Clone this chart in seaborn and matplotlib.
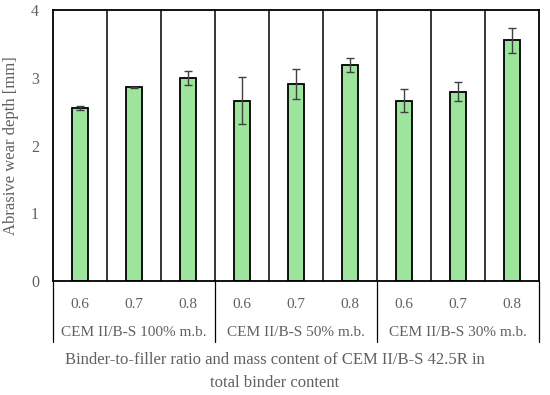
"""Abrasive wear depth bar chart with grouped category axis."""

import matplotlib
matplotlib.use("Agg")
import matplotlib.pyplot as plt
import matplotlib.transforms as mtransforms
import pandas as pd
import seaborn as sns

# Data
ratios = ["0.6", "0.7", "0.8", "0.6", "0.7", "0.8", "0.6", "0.7", "0.8"]
groups = ["CEM II/B-S 100% m.b.", "CEM II/B-S 50% m.b.", "CEM II/B-S 30% m.b."]
wear_depth = [2.55, 2.86, 3.00, 2.66, 2.91, 3.19, 2.66, 2.79, 3.55]
wear_err = [0.03, 0.01, 0.10, 0.35, 0.22, 0.10, 0.17, 0.14, 0.19]

TEXT = "#606060"
BAR = "#9de59d"

sns.set_theme(style="white")
plt.rcParams["font.family"] = ["Liberation Serif", "DejaVu Serif"]

df = pd.DataFrame({"pos": range(len(wear_depth)), "depth": wear_depth})

fig = plt.figure(figsize=(5.5, 3.95), dpi=100)
ax = fig.add_axes([53 / 550, 1 - 281 / 395, 486 / 550, 271 / 395])

sns.barplot(data=df, x="pos", y="depth", color=BAR, width=0.31,
            edgecolor="black", linewidth=1.3, saturation=1, errorbar=None, ax=ax)
ax.errorbar(df["pos"], wear_depth, yerr=wear_err, fmt="none",
            ecolor="#404040", elinewidth=1, capsize=3, capthick=1)

ax.set_ylim(0, 4)
ax.set_xlim(-0.5, len(wear_depth) - 0.5)
ax.set_yticks([0, 1, 2, 3, 4])
ax.tick_params(axis="y", length=0, labelsize=11.5, labelcolor=TEXT, pad=10)
ax.set_xticks(range(len(ratios)))
ax.set_xticklabels(ratios)
ax.tick_params(axis="x", length=0, labelsize=11, labelcolor=TEXT, pad=12)
ax.set_xlabel("")
ax.set_ylabel("Abrasive wear depth [mm]", color=TEXT, fontsize=12, labelpad=9)

for s in ax.spines.values():
    s.set_color("black")
    s.set_linewidth(1.3)

# separators between every bar
for x in range(len(wear_depth) - 1):
    ax.axvline(x + 0.5, color="black", lw=1.1)

# group separators and labels below the axis
trans = mtransforms.blended_transform_factory(ax.transData, ax.transAxes)
for b in [-0.5, 2.5, 5.5, 8.5]:
    ax.plot([b, b], [0, -0.225], color="black", lw=0.9, transform=trans, clip_on=False)
for i, g in enumerate(groups):
    ax.text(3 * i + 1, -0.19, g, transform=trans, ha="center", va="center",
            color=TEXT, fontsize=11)

fig.text(0.5, 1 - 360 / 395, "Binder-to-filler ratio and mass content of CEM II/B-S 42.5R in",
         ha="center", va="center", color=TEXT, fontsize=12)
fig.text(0.5, 1 - 383 / 395, "total binder content",
         ha="center", va="center", color=TEXT, fontsize=12)

fig.savefig("out.png", dpi=100)
